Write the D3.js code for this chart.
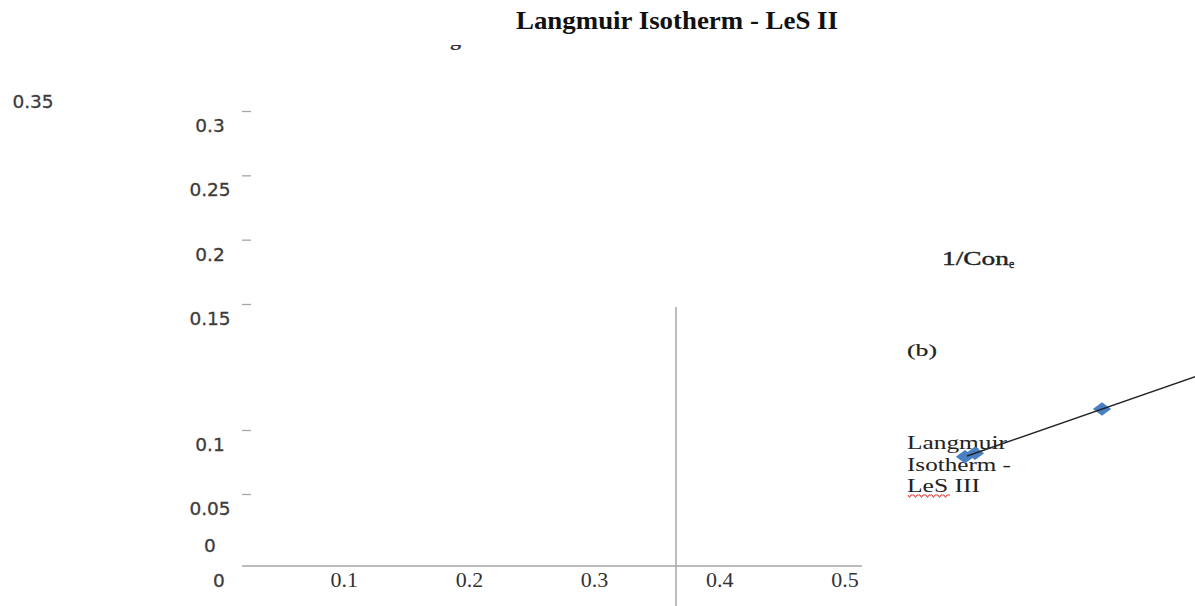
<!DOCTYPE html>
<html>
<head>
<meta charset="utf-8">
<script src="https://cdn.jsdelivr.net/npm/d3@7/dist/d3.min.js"></script>
<style>
  html, body { margin: 0; padding: 0; background: #fff; }
  svg { display: block; }
</style>
</head>
<body>
<svg id="chart" width="1195" height="606"></svg>
<script>
// ---- data ----
const title = "Langmuir Isotherm - LeS II";
const xTickValues = [0, 0.1, 0.2, 0.3, 0.4, 0.5];
const yTickValues = [0.3, 0.25, 0.2, 0.15, 0.1, 0.05];
const yLabelValues = [0.3, 0.25, 0.2, 0.15, 0.1, 0.05, 0];
const yTopLabel = 0.35;

// inset (b): 1/Con_e against 1/q_e with its fitted line
const invCe = [0.025, 0.035, 0.162];
const invQe = [0.0633, 0.0668, 0.1110];
const fitSlope = 0.348;
const fitIntercept = 0.0546;
const fitRange = [0.027, 0.26];
const insetLabel = "(b)";
const insetAxisLabel = "1/Con";
const insetCaption = ["Langmuir", "Isotherm -", "LeS III"];

// ---- drawing ----
const svg = d3.select("#chart");
const axisGrey = "#a6a6a6";
const sans = "DejaVu Sans, Verdana, sans-serif";
const serif = "Liberation Serif, Times New Roman, serif";

// main frame scales
const x = d3.scaleLinear().domain([0, 0.5]).range([219, 845]);
const yLab = d3.scaleLinear()
  .domain([0, 0.05, 0.1, 0.15, 0.3])
  .range([552, 515, 451, 325, 132]);

// title
svg.append("text")
  .attr("x", 677).attr("y", 29)
  .attr("text-anchor", "middle")
  .attr("font-family", serif)
  .attr("font-weight", "bold")
  .attr("font-size", 26)
  .attr("textLength", 322)
  .attr("lengthAdjust", "spacingAndGlyphs")
  .attr("fill", "#111")
  .text(title);

// stray descender of a hidden heading line
svg.append("clipPath").attr("id", "cut")
  .append("rect").attr("x", 440).attr("y", 45).attr("width", 40).attr("height", 10);
svg.append("text")
  .attr("clip-path", "url(#cut)")
  .attr("x", 450).attr("y", 45)
  .attr("font-family", serif)
  .attr("font-weight", "bold")
  .attr("font-size", 22)
  .attr("fill", "#333")
  .text("g");

// y tick labels
const labelStyle = sel => sel
  .attr("font-family", sans).attr("font-size", 18.5)
  .attr("fill", "#3c3c3c")
  .attr("stroke", "#3c3c3c").attr("stroke-width", 0.3);

svg.append("text")
  .attr("x", 33).attr("y", 108)
  .attr("text-anchor", "middle")
  .call(labelStyle)
  .text(yTopLabel);

svg.append("g").selectAll("text")
  .data(yLabelValues).join("text")
  .attr("x", 210)
  .attr("y", d => yLab(d))
  .attr("text-anchor", "middle")
  .call(labelStyle)
  .text(d => d);

// y tick marks
svg.append("g").selectAll("line")
  .data(yTickValues).join("line")
  .attr("x1", 242).attr("x2", 251)
  .attr("y1", d => yLab(d) - 20.5)
  .attr("y2", d => yLab(d) - 20.5)
  .attr("stroke", axisGrey).attr("stroke-width", 1.3);

// x axis line
svg.append("line")
  .attr("x1", 242).attr("x2", 862)
  .attr("y1", 566).attr("y2", 566)
  .attr("stroke", axisGrey).attr("stroke-width", 1.5);

// vertical rule
svg.append("line")
  .attr("x1", 676).attr("x2", 676)
  .attr("y1", 307).attr("y2", 606)
  .attr("stroke", axisGrey).attr("stroke-width", 1.5);

// x tick labels (the origin label shares the y-axis face)
svg.append("g").selectAll("text")
  .data(xTickValues).join("text")
  .attr("x", d => x(d))
  .attr("y", 587)
  .attr("text-anchor", "middle")
  .each(function (d) {
    const t = d3.select(this);
    if (d === 0) t.call(labelStyle);
    else t.attr("font-family", serif).attr("font-size", 22).attr("fill", "#333");
  })
  .text(d => d);

// ---- inset (b) ----
const xb = d3.scaleLinear().domain([0, 0.25]).range([940, 1190]);
const yb = d3.scaleLinear().domain([0, 0.2]).range([520, 320]);

const axisLbl = svg.append("text")
  .attr("x", 942).attr("y", 265)
  .attr("font-family", serif).attr("font-size", 18)
  .attr("fill", "#222").attr("stroke", "#222").attr("stroke-width", 0.35);
axisLbl.append("tspan").attr("textLength", 67).attr("lengthAdjust", "spacingAndGlyphs").text(insetAxisLabel);
axisLbl.append("tspan").attr("font-size", 12).attr("dy", 3).text("e");

svg.append("text")
  .attr("x", 907).attr("y", 356)
  .attr("font-family", serif).attr("font-size", 17)
  .attr("textLength", 30)
  .attr("lengthAdjust", "spacingAndGlyphs")
  .attr("fill", "#222").attr("stroke", "#222").attr("stroke-width", 0.2)
  .text(insetLabel);

const capWidths = [100, 104, 73];
svg.append("g").selectAll("text")
  .data(insetCaption).join("text")
  .attr("x", 907)
  .attr("y", (d, i) => 449 + i * 21.5)
  .attr("font-family", serif).attr("font-size", 19)
  .attr("textLength", (d, i) => capWidths[i])
  .attr("lengthAdjust", "spacingAndGlyphs")
  .attr("fill", "#222")
  .text(d => d);

// spell-check squiggle beneath "LeS"
const squiggle = d3.path();
squiggle.moveTo(908, 495);
for (let i = 0; i < 14; i++) {
  const xs = 908 + i * 3;
  squiggle.lineTo(xs + 1.5, i % 2 ? 495 : 497.5);
  squiggle.lineTo(xs + 3, 495);
}
svg.append("path")
  .attr("d", squiggle.toString())
  .attr("fill", "none")
  .attr("stroke", "#e03030")
  .attr("stroke-width", 1);

// markers
const pts = invCe.map((v, i) => [v, invQe[i]]);
const diamond = d3.symbol().type(d3.symbolDiamond2).size(160);
svg.append("g").selectAll("path")
  .data(pts).join("path")
  .attr("transform", d => `translate(${xb(d[0])},${yb(d[1])}) scale(1.15,0.85)`)
  .attr("d", diamond)
  .attr("fill", "#4a7fc4");

// fitted line
const fit = fitRange.map(v => [v, fitIntercept + fitSlope * v]);
svg.append("path")
  .datum(fit)
  .attr("d", d3.line().x(d => xb(d[0])).y(d => yb(d[1])))
  .attr("fill", "none")
  .attr("stroke", "#222")
  .attr("stroke-width", 1.4);
</script>
</body>
</html>
